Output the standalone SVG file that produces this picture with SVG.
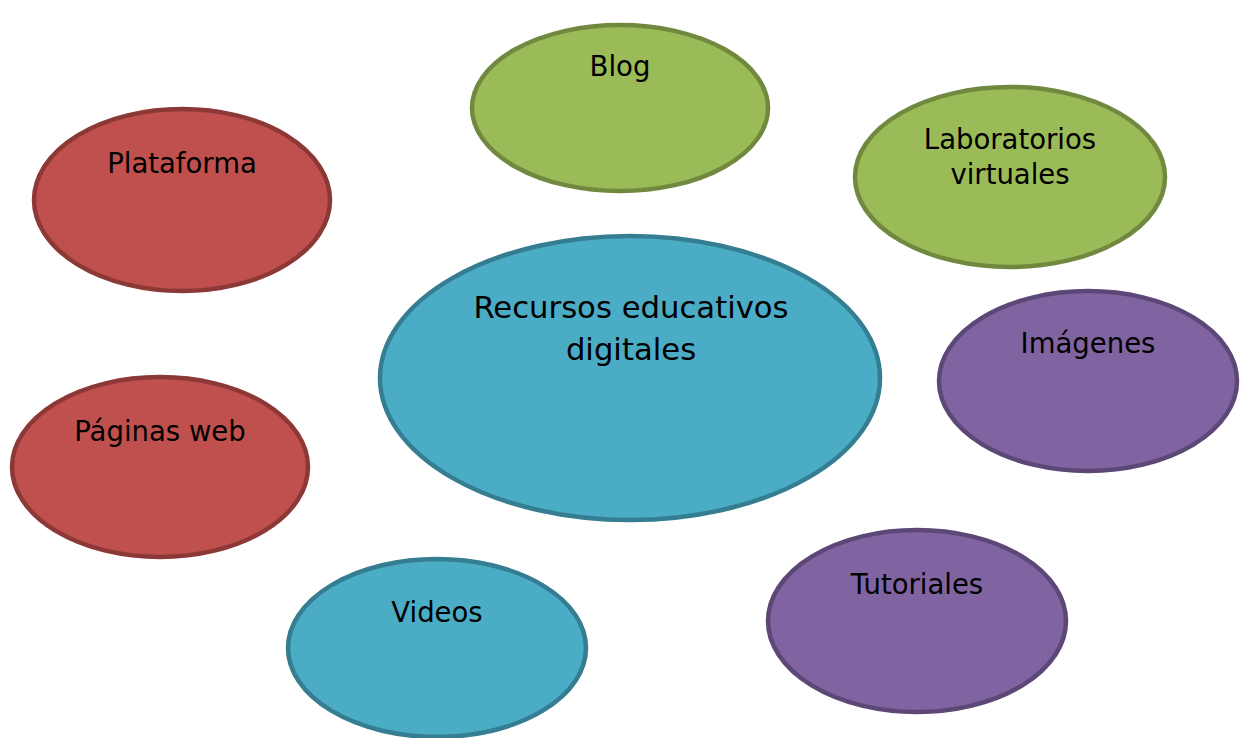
<svg xmlns="http://www.w3.org/2000/svg" width="1243" height="738" viewBox="0 0 1243 738">
<style>
.n{stroke-width:4.5}
.red{fill:#C0504D;stroke:#8C3836}
.green{fill:#9BBB59;stroke:#71893F}
.blue{fill:#4BACC6;stroke:#357D91}
.purple{fill:#8064A2;stroke:#5C4776}
text{font-family:"DejaVu Sans","Liberation Sans",sans-serif;font-size:27.5px;fill:#000;text-anchor:middle}
.big{font-size:30.7px}
</style>
<rect width="1243" height="738" fill="#fff"/>
<g id="plataforma"><ellipse class="n red" cx="182" cy="200" rx="148" ry="91"/><text x="182" y="173">Plataforma</text></g>
<g id="blog"><ellipse class="n green" cx="620" cy="108" rx="148" ry="83"/><text x="620" y="76">Blog</text></g>
<g id="laboratorios"><ellipse class="n green" cx="1010" cy="177" rx="155" ry="90"/><text x="1010" y="149">Laboratorios</text><text x="1010" y="184">virtuales</text></g>
<g id="recursos"><ellipse class="n blue" cx="630" cy="378" rx="250" ry="142"/><text class="big" x="631" y="318">Recursos educativos</text><text class="big" x="631" y="360">digitales</text></g>
<g id="imagenes"><ellipse class="n purple" cx="1088" cy="381" rx="149" ry="90"/><text x="1088" y="353">Imágenes</text></g>
<g id="paginas"><ellipse class="n red" cx="160" cy="467" rx="148" ry="90"/><text x="160" y="441">Páginas web</text></g>
<g id="videos"><ellipse class="n blue" cx="437" cy="648" rx="149" ry="89"/><text x="437" y="622">Videos</text></g>
<g id="tutoriales"><ellipse class="n purple" cx="917" cy="621" rx="149" ry="91"/><text x="917" y="594">Tutoriales</text></g>
</svg>
